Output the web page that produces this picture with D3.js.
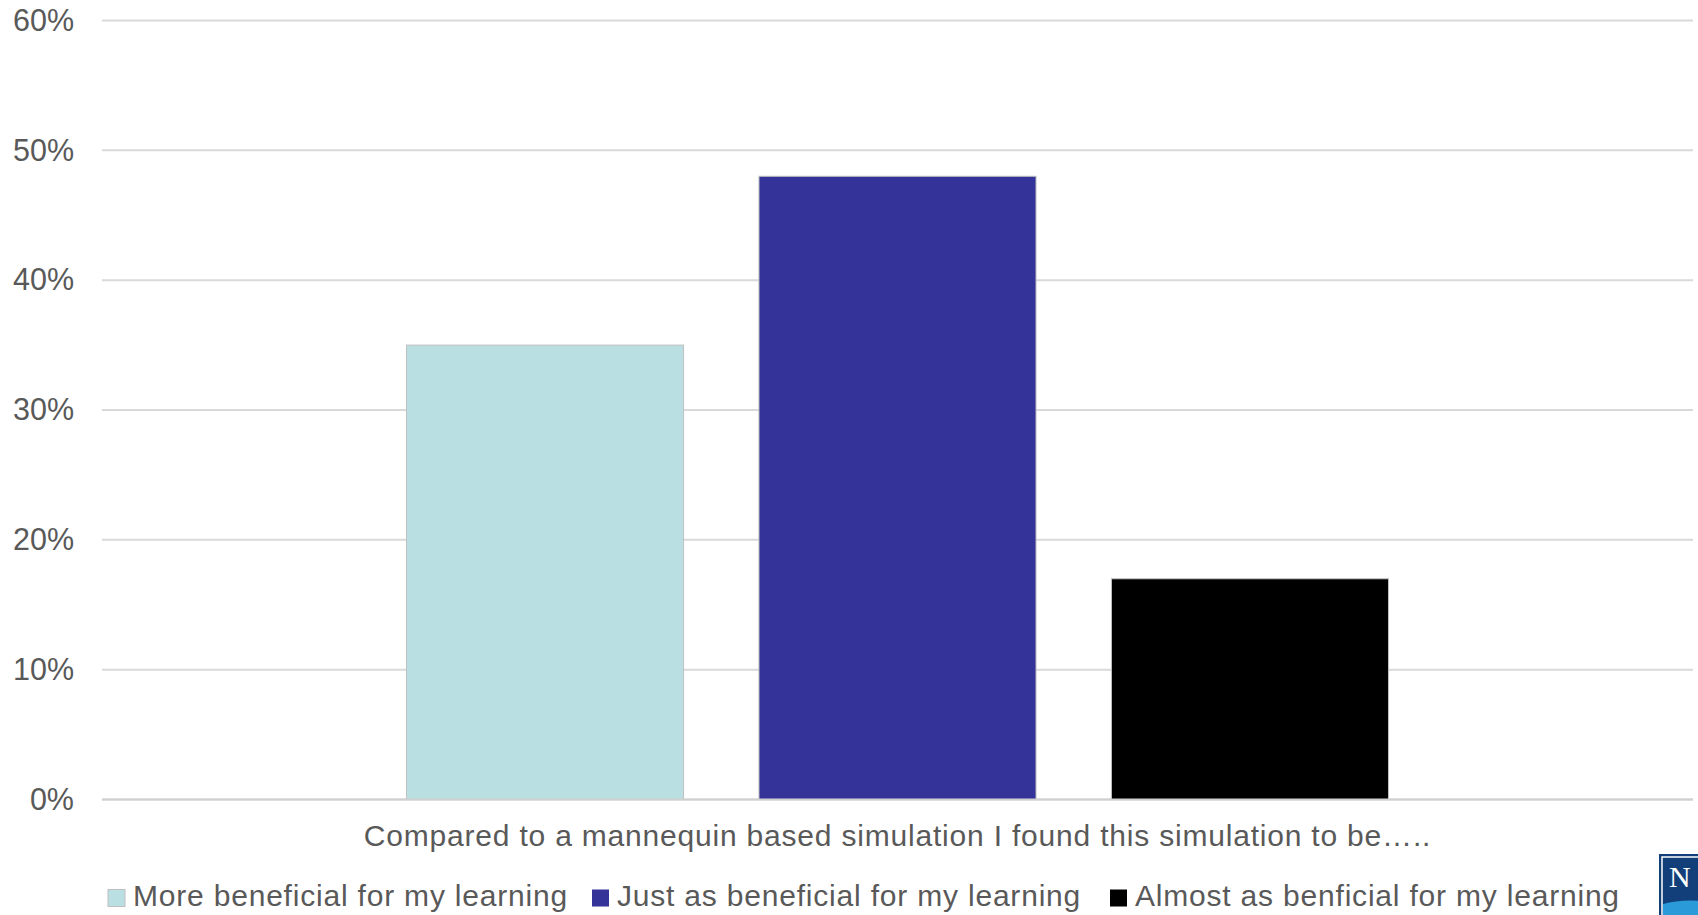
<!DOCTYPE html>
<html>
<head>
<meta charset="utf-8">
<script src="https://cdn.jsdelivr.net/npm/d3@7"></script>
<style>
  html, body { margin: 0; padding: 0; background: #fff; overflow: hidden; }
  svg { display: block; font-family: "Liberation Sans", Arial, sans-serif; }
</style>
</head>
<body>
<svg id="chart" width="1698" height="915"></svg>
<script>
// Survey responses: one question, three answer options
const category = "Compared to a mannequin based simulation I found this simulation to be…..";
const seriesNames = [
  "More beneficial for my learning",
  "Just as beneficial for my learning",
  "Almost as benficial for my learning"
];
const seriesValues = [0.35, 0.48, 0.17];
const seriesColors = ["#badfe2", "#333399", "#000000"];
const yTicks = [0, 0.1, 0.2, 0.3, 0.4, 0.5, 0.6];

const svg = d3.select("#chart");
const plot = { left: 102, right: 1693, top: 20.5, bottom: 799.5 };
const textColor = "#595959";

const y = d3.scaleLinear().domain([0, 0.6]).range([plot.bottom, plot.top]);
const x = d3.scaleBand()
  .domain(seriesNames)
  .range([plot.left, plot.right])
  .paddingInner(0.214)
  .paddingOuter(0.864);

// Horizontal gridlines
svg.append("g")
  .selectAll("line")
  .data(yTicks)
  .join("line")
  .attr("x1", plot.left)
  .attr("x2", plot.right)
  .attr("y1", d => y(d))
  .attr("y2", d => y(d))
  .attr("stroke", "#d9d9d9")
  .attr("stroke-width", 2);

// Y axis labels
const yAxis = d3.axisLeft(y)
  .tickValues(yTicks)
  .tickFormat(d3.format(".0%"))
  .tickSize(0)
  .tickPadding(0);
const yg = svg.append("g")
  .attr("transform", `translate(74,0)`)
  .call(yAxis);
yg.select(".domain").remove();
yg.selectAll("text")
  .attr("fill", textColor)
  .attr("font-size", 30.5)
  .attr("font-family", "Liberation Sans, Arial, sans-serif");

// Bars
svg.append("g")
  .selectAll("rect")
  .data(seriesNames.map((n, i) => ({ name: n, value: seriesValues[i], color: seriesColors[i] })))
  .join("rect")
  .attr("x", d => x(d.name))
  .attr("width", x.bandwidth())
  .attr("y", d => y(d.value))
  .attr("height", d => y(0) - y(d.value))
  .attr("fill", d => d.color)
  .attr("stroke", "#bfbfbf")
  .attr("stroke-width", 1);

// Baseline
svg.append("line")
  .attr("x1", plot.left).attr("x2", plot.right)
  .attr("y1", y(0)).attr("y2", y(0))
  .attr("stroke", "#d0d0d0").attr("stroke-width", 2);

// Category label
svg.append("text")
  .attr("x", (plot.left + plot.right) / 2)
  .attr("y", 846)
  .attr("text-anchor", "middle")
  .attr("fill", textColor)
  .attr("font-size", 30)
  .attr("letter-spacing", 0.8)
  .text(category);

// Legend
const legendX = [108, 592, 1110];
const legend = svg.append("g")
  .selectAll("g")
  .data(seriesNames)
  .join("g")
  .attr("transform", (d, i) => `translate(${legendX[i]},0)`);
legend.append("rect")
  .attr("x", 0).attr("y", 889.5)
  .attr("width", 17).attr("height", 17)
  .attr("fill", (d, i) => seriesColors[i])
  .attr("stroke", (d, i) => i === 0 ? "#bfbfbf" : "none");
legend.append("text")
  .attr("x", 25).attr("y", 906)
  .attr("fill", textColor)
  .attr("font-size", 30)
  .attr("letter-spacing", 0.8)
  .text(d => d);

// Corner badge
const badge = svg.append("g").attr("transform", "translate(1659,854)");
badge.append("rect").attr("width", 50).attr("height", 70).attr("fill", "#123f7a");
badge.append("rect").attr("x", 3).attr("y", 3).attr("width", 50).attr("height", 70)
  .attr("fill", "none").attr("stroke", "#ffffff").attr("stroke-width", 1.5);
badge.append("path")
  .attr("d", "M4,50 Q25,44 50,48 L50,70 L4,70 Z")
  .attr("fill", "#2a9ad8");
badge.append("text")
  .attr("x", 10).attr("y", 33)
  .attr("fill", "#ffffff")
  .attr("font-family", "Liberation Serif, serif")
  .attr("font-size", 30)
  .text("N");
</script>
</body>
</html>
